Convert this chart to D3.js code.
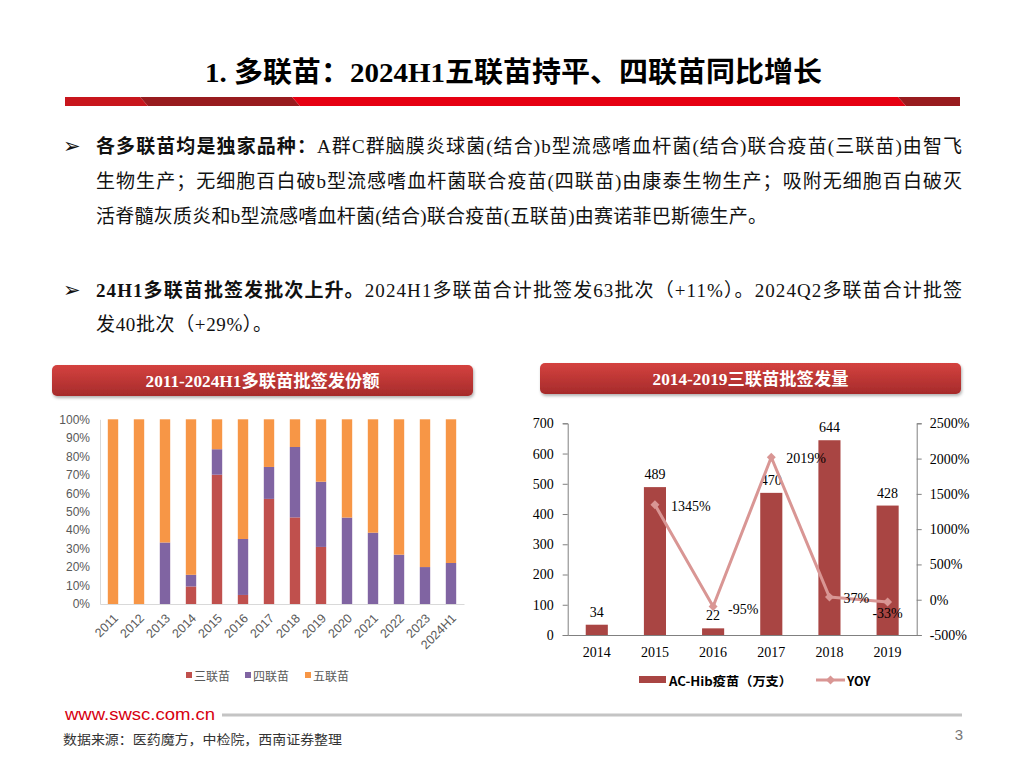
<!DOCTYPE html>
<html>
<head>
<meta charset="utf-8">
<script src="https://cdn.jsdelivr.net/npm/d3@7"></script>
<style>
  html, body { margin: 0; padding: 0; background: #fff; }
  svg { display: block; }
</style>
</head>
<body>
<div id="slide"></div>
<script>
// ---- data ----
const titleText = "1. 多联苗：2024H1五联苗持平、四联苗同比增长";

const bulletLines = [
  { bold: "各多联苗均是独家品种：", text: "A群C群脑膜炎球菌(结合)b型流感嗜血杆菌(结合)联合疫苗(三联苗)由智飞" },
  { bold: "", text: "生物生产；无细胞百白破b型流感嗜血杆菌联合疫苗(四联苗)由康泰生物生产；吸附无细胞百白破灭" },
  { bold: "", text: "活脊髓灰质炎和b型流感嗜血杆菌(结合)联合疫苗(五联苗)由赛诺菲巴斯德生产。" },
  { bold: "24H1多联苗批签发批次上升。", text: "2024H1多联苗合计批签发63批次（+11%）。2024Q2多联苗合计批签" },
  { bold: "", text: "发40批次（+29%）。" }
];

const leftTitle = "2011-2024H1多联苗批签发份额";
const rightTitle = "2014-2019三联苗批签发量";

const shareYears = ["2011", "2012", "2013", "2014", "2015", "2016", "2017", "2018", "2019", "2020", "2021", "2022", "2023", "2024H1"];
const triShare   = [0, 0, 0, 9.5, 70.0, 4.9, 56.9, 46.9, 30.9, 0, 0, 0, 0, 0];
const quadShare  = [0, 0, 33.3, 6.3, 13.8, 30.3, 17.3, 38.1, 35.3, 46.8, 38.6, 26.7, 20.0, 22.2];
const pentaShare = [100, 100, 66.7, 84.2, 16.2, 64.8, 25.8, 15.0, 33.8, 53.2, 61.4, 73.3, 80.0, 77.8];
const shareSeries = ["三联苗", "四联苗", "五联苗"];
const shareTicks = [0, 10, 20, 30, 40, 50, 60, 70, 80, 90, 100];

const achibYears  = ["2014", "2015", "2016", "2017", "2018", "2019"];
const achibVolume = [34, 489, 22, 470, 644, 428];
const achibYoy    = [null, 1345, -95, 2019, 37, -33];
const volumeTicks = [0, 100, 200, 300, 400, 500, 600, 700];
const yoyTicks    = [-500, 0, 500, 1000, 1500, 2000, 2500];
const achibLegend = ["AC-Hib疫苗（万支）", "YOY"];

const footerUrl = "www.swsc.com.cn";
const sourceText = "数据来源：医药魔方，中检院，西南证券整理";
const pageNumber = "3";

// ---- style ----
const SERIF = "'Liberation Serif', 'Noto Sans CJK SC', serif";
const SANS = "'Liberation Sans', 'Noto Sans CJK SC', sans-serif";
const CJK = "'Noto Sans CJK SC', sans-serif";
const SHARE_COLORS = ["#c0504d", "#8064a2", "#f79646"];
const BAR_RED = "#a94543";
const YOY_PINK = "#d99694";

const svg = d3.select("#slide").append("svg")
  .attr("width", 1024).attr("height", 768)
  .attr("viewBox", [0, 0, 1024, 768]);

const defs = svg.append("defs");
const grad = defs.append("linearGradient").attr("id", "boxGrad")
  .attr("x1", 0).attr("y1", 0).attr("x2", 0).attr("y2", 1);
grad.append("stop").attr("offset", "0%").attr("stop-color", "#d4423f");
grad.append("stop").attr("offset", "100%").attr("stop-color", "#a62b2b");
const shadow = defs.append("filter").attr("id", "boxShadow")
  .attr("x", "-5%").attr("y", "-20%").attr("width", "110%").attr("height", "160%");
shadow.append("feDropShadow").attr("dx", 1).attr("dy", 2).attr("stdDeviation", 1.5)
  .attr("flood-color", "#000").attr("flood-opacity", 0.3);

// ---- title ----
svg.append("text")
  .attr("x", 205).attr("y", 72)
  .attr("dominant-baseline", "central")
  .attr("font-family", SERIF).attr("font-weight", "bold").attr("font-size", 28)
  .attr("fill", "#000")
  .attr("textLength", 617).attr("lengthAdjust", "spacingAndGlyphs")
  .text(titleText);

// red band under the title: parallelogram segments
const band = svg.append("g");
const bandTop = 97, bandBot = 106, slant = 8;
const bandSegs = [
  { x0: 65, x1: 140, color: "#c8161d" },
  { x0: 140, x1: 292, color: "#981b1e" },
  { x0: 292, x1: 898, color: "#e60012" },
  { x0: 898, x1: 960, color: "#981b1e" }
];
bandSegs.forEach((s, i) => {
  const l1 = i === 0 ? s.x0 : s.x0 + slant;
  const r1 = i === bandSegs.length - 1 ? s.x1 : s.x1 + slant;
  band.append("path")
    .attr("d", `M${s.x0},${bandTop}L${s.x1},${bandTop}L${r1},${bandBot}L${l1},${bandBot}Z`)
    .attr("fill", s.color);
});

// ---- bullet text ----
const lineY = [146, 181, 216, 290, 324];
const lineW = [866, 866, 671, 866, 176];
const text = svg.append("g").attr("font-family", SERIF).attr("font-size", 19).attr("fill", "#111");
bulletLines.forEach((ln, i) => {
  if (ln.bold) {
    text.append("text")
      .attr("x", 63).attr("y", lineY[i])
      .attr("dominant-baseline", "central")
      .attr("font-family", "'DejaVu Sans'").attr("font-size", 21)
      .text("➢");
  }
  const t = text.append("text")
    .attr("x", 96).attr("y", lineY[i])
    .attr("dominant-baseline", "central")
    .attr("textLength", lineW[i]).attr("lengthAdjust", "spacing");
  if (ln.bold) t.append("tspan").attr("font-weight", "bold").text(ln.bold);
  t.append("tspan").text(ln.text);
});

// ---- chart header boxes ----
function headerBox(x, y, w, h, label, labelW) {
  const g = svg.append("g");
  g.append("rect")
    .attr("x", x).attr("y", y).attr("width", w).attr("height", h)
    .attr("rx", 5).attr("fill", "url(#boxGrad)")
    .attr("filter", "url(#boxShadow)");
  g.append("text")
    .attr("x", x + w / 2 - labelW / 2).attr("y", y + h / 2 + 1)
    .attr("dominant-baseline", "central")
    .attr("font-family", SERIF).attr("font-weight", "bold").attr("font-size", 17)
    .attr("fill", "#fff")
    .attr("textLength", labelW).attr("lengthAdjust", "spacingAndGlyphs")
    .text(label);
}
headerBox(52, 365, 421, 31, leftTitle, 234);
headerBox(540, 363, 421, 31, rightTitle, 196);

// ---- left chart: stacked share ----
const left = svg.append("g");
const lx = d3.scaleBand().domain(shareYears).range([100, 464]).paddingInner(0.6).paddingOuter(0.3);
const ly = d3.scaleLinear().domain([0, 100]).range([604, 419.3]);

const stackRows = shareYears.map((yr, i) => ({
  year: yr, "三联苗": triShare[i], "四联苗": quadShare[i], "五联苗": pentaShare[i]
}));
const stacked = d3.stack().keys(shareSeries)(stackRows);

left.append("g").selectAll("g")
  .data(stacked)
  .join("g")
  .attr("fill", (d, i) => SHARE_COLORS[i])
  .selectAll("rect")
  .data(d => d.filter(p => p[1] - p[0] > 0))
  .join("rect")
  .attr("x", d => lx(d.data.year))
  .attr("width", lx.bandwidth())
  .attr("y", d => ly(d[1]))
  .attr("height", d => ly(d[0]) - ly(d[1]));

const lyAxis = left.append("g")
  .attr("transform", "translate(100,0)")
  .call(d3.axisLeft(ly).tickValues(shareTicks).tickFormat(d => d + "%").tickSize(0).tickPadding(10));
lyAxis.select(".domain").attr("stroke", "#d9d9d9");
lyAxis.selectAll("text").attr("font-family", SANS).attr("font-size", 12).attr("fill", "#595959");

const lxAxis = left.append("g")
  .attr("transform", "translate(0,604)")
  .call(d3.axisBottom(lx).tickSize(0).tickPadding(0));
lxAxis.select(".domain").attr("stroke", "#d9d9d9");
lxAxis.selectAll("text")
  .attr("font-family", SANS).attr("font-size", 12.5).attr("fill", "#595959")
  .attr("text-anchor", "end")
  .attr("dy", 0)
  .attr("transform", "translate(6,15) rotate(-45)");

const lLegend = left.append("g").attr("font-family", CJK).attr("font-size", 12).attr("fill", "#595959");
const legX = [186, 245, 305];
shareSeries.forEach((name, i) => {
  lLegend.append("rect").attr("x", legX[i]).attr("y", 672).attr("width", 6).attr("height", 6)
    .attr("fill", SHARE_COLORS[i]);
  lLegend.append("text").attr("x", legX[i] + 8).attr("y", 675)
    .attr("dominant-baseline", "central").text(name);
});

// ---- right chart: AC-Hib volume + YOY ----
const right = svg.append("g");
const rx = d3.scaleBand().domain(achibYears).range([567.7, 916.7]).paddingInner(0.62).paddingOuter(0.31);
const ry = d3.scaleLinear().domain([0, 700]).range([635, 423.3]);
const ry2 = d3.scaleLinear().domain([-500, 2500]).range([635, 423.3]);

right.append("g").selectAll("rect")
  .data(achibYears.map((y, i) => ({ year: y, v: achibVolume[i] })))
  .join("rect")
  .attr("x", d => rx(d.year))
  .attr("width", rx.bandwidth())
  .attr("y", d => ry(d.v))
  .attr("height", d => ry(0) - ry(d.v))
  .attr("fill", BAR_RED);

right.append("g").selectAll("text")
  .data(achibYears.map((y, i) => ({ year: y, v: achibVolume[i] })))
  .join("text")
  .attr("x", d => rx(d.year) + rx.bandwidth() / 2)
  .attr("y", d => ry(d.v) - 8)
  .attr("text-anchor", "middle")
  .attr("font-family", SERIF).attr("font-size", 14).attr("fill", "#000")
  .text(d => d.v);

const yoyPts = achibYears.map((y, i) => ({ year: y, v: achibYoy[i] })).filter(d => d.v != null);
const cx = d => rx(d.year) + rx.bandwidth() / 2;

right.append("path")
  .datum(yoyPts)
  .attr("fill", "none").attr("stroke", YOY_PINK).attr("stroke-width", 3)
  .attr("stroke-linejoin", "round")
  .attr("d", d3.line().x(cx).y(d => ry2(d.v)));

const diamond = d3.symbol().type(d3.symbolSquare).size(40);
right.append("g").selectAll("path")
  .data(yoyPts)
  .join("path")
  .attr("d", diamond)
  .attr("transform", d => `translate(${cx(d)},${ry2(d.v)}) rotate(45)`)
  .attr("fill", YOY_PINK);

// YOY label placement (pixel offsets from point)
const yoyLabelPos = { "2015": [16, 6, "start"], "2016": [15, 8, "start"], "2017": [15, 6, "start"], "2018": [14, 6, "start"], "2019": [0, 16, "middle"] };
right.append("g").selectAll("text")
  .data(yoyPts)
  .join("text")
  .attr("x", d => cx(d) + yoyLabelPos[d.year][0])
  .attr("y", d => ry2(d.v) + yoyLabelPos[d.year][1])
  .attr("text-anchor", d => yoyLabelPos[d.year][2])
  .attr("font-family", SERIF).attr("font-size", 14).attr("fill", "#000")
  .text(d => d.v + "%");

const rAxisL = right.append("g")
  .attr("transform", "translate(567.7,0)")
  .call(d3.axisLeft(ry).tickValues(volumeTicks).tickSize(5).tickPadding(9));
const rAxisR = right.append("g")
  .attr("transform", "translate(916.7,0)")
  .call(d3.axisRight(ry2).tickValues(yoyTicks).tickFormat(d => d + "%").tickSize(5).tickPadding(8));
const rAxisB = right.append("g")
  .attr("transform", "translate(0,635)")
  .call(d3.axisBottom(rx).tickSize(0).tickPadding(12));
[rAxisL, rAxisR, rAxisB].forEach(a => {
  a.select(".domain").attr("stroke", "#808080");
  a.selectAll("line").attr("stroke", "#808080");
  a.selectAll("text").attr("font-family", SERIF).attr("font-size", 14).attr("fill", "#000");
});
rAxisB.selectAll("text").attr("dy", "0.71em");

const rLegend = right.append("g").attr("font-family", CJK).attr("font-weight", "bold")
  .attr("font-size", 12.5).attr("fill", "#000");
rLegend.append("rect").attr("x", 639).attr("y", 676).attr("width", 27).attr("height", 7).attr("fill", BAR_RED);
rLegend.append("text").attr("x", 669).attr("y", 680)
  .attr("dominant-baseline", "central")
  .attr("textLength", 123).attr("lengthAdjust", "spacingAndGlyphs")
  .text(achibLegend[0]);
rLegend.append("line").attr("x1", 816).attr("x2", 845).attr("y1", 680).attr("y2", 680)
  .attr("stroke", YOY_PINK).attr("stroke-width", 3);
rLegend.append("path").attr("d", diamond).attr("transform", "translate(830.5,680) rotate(45)")
  .attr("fill", YOY_PINK);
rLegend.append("text").attr("x", 847).attr("y", 680)
  .attr("dominant-baseline", "central")
  .text(achibLegend[1]);

// ---- footer ----
svg.append("text")
  .attr("x", 65).attr("y", 714)
  .attr("dominant-baseline", "central")
  .attr("font-family", SANS).attr("font-size", 17).attr("fill", "#d7000f")
  .attr("textLength", 150).attr("lengthAdjust", "spacingAndGlyphs")
  .text(footerUrl);
svg.append("line")
  .attr("x1", 222).attr("x2", 962).attr("y1", 715).attr("y2", 715)
  .attr("stroke", "#c4c4c4").attr("stroke-width", 3);
svg.append("text")
  .attr("x", 63).attr("y", 738)
  .attr("dominant-baseline", "central")
  .attr("font-family", CJK).attr("font-size", 13).attr("fill", "#333")
  .attr("textLength", 279).attr("lengthAdjust", "spacingAndGlyphs")
  .text(sourceText);
svg.append("text")
  .attr("x", 963).attr("y", 734)
  .attr("dominant-baseline", "central").attr("text-anchor", "end")
  .attr("font-family", SANS).attr("font-size", 15).attr("fill", "#777")
  .text(pageNumber);
</script>
</body>
</html>
